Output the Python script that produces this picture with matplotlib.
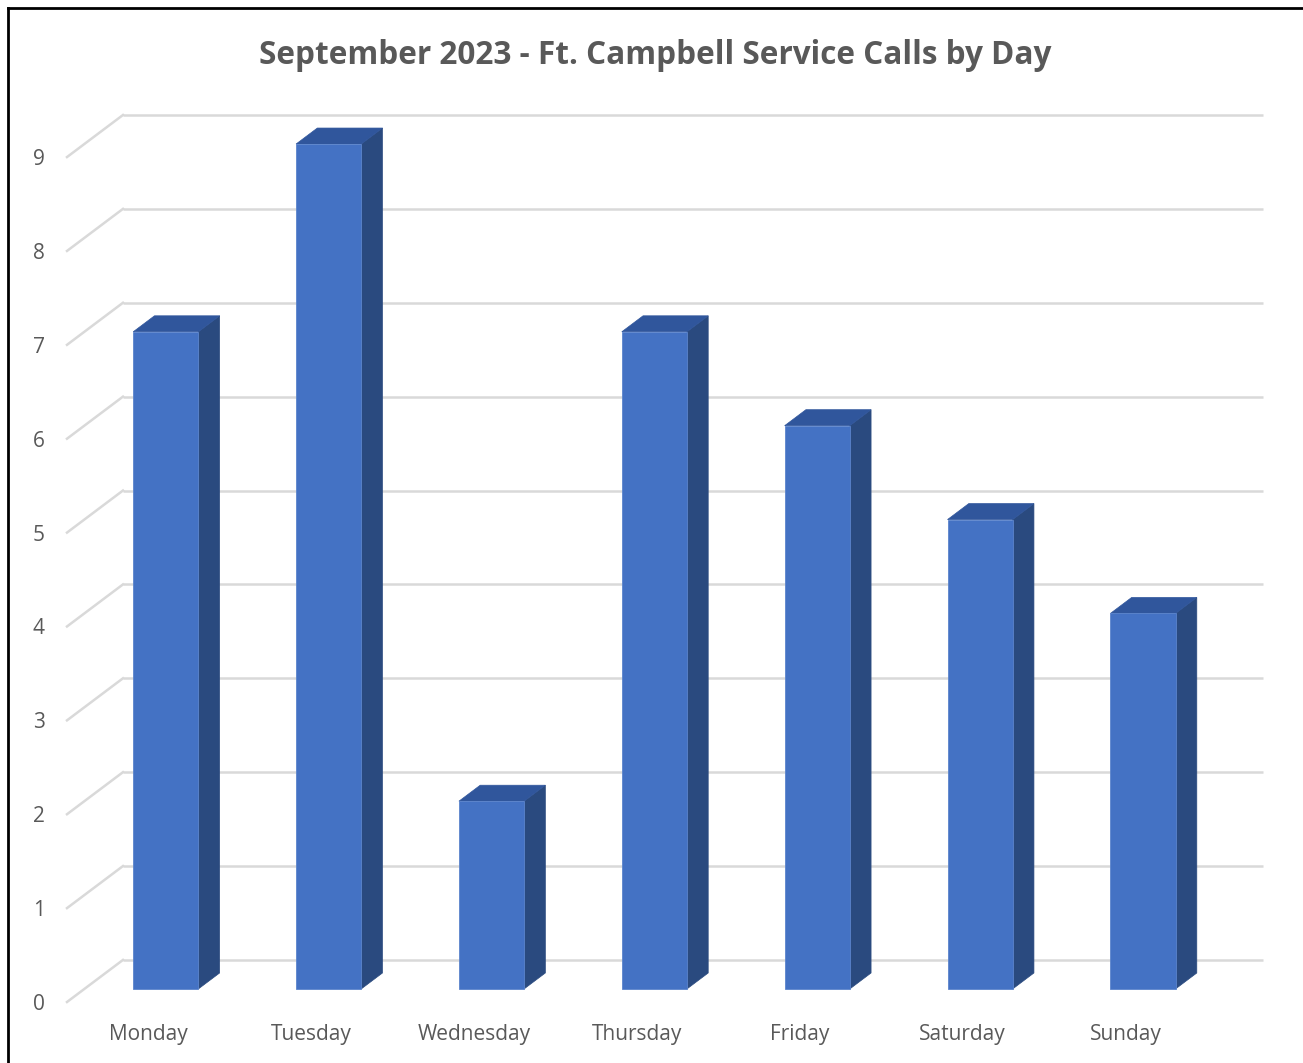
import matplotlib
matplotlib.use("Agg")
import matplotlib.pyplot as plt
from matplotlib.patches import Polygon
from matplotlib.lines import Line2D

days = ["Monday", "Tuesday", "Wednesday", "Thursday", "Friday", "Saturday", "Sunday"]
calls = [7, 9, 2, 7, 6, 5, 4]
y_ticks = [0, 1, 2, 3, 4, 5, 6, 7, 8, 9]
title = "September 2023 - Ft. Campbell Service Calls by Day"

plt.rcParams['font.family'] = ['Open Sans', 'DejaVu Sans']

W, H = 1303, 1063
fig = plt.figure(figsize=(W / 100, H / 100), dpi=100)
fig.patch.set_facecolor("white")

# axes = front-left of floor to back-right top of wall
ax_l, ax_r, ax_b, ax_t = 67, 1263, 1002, 115
ax = fig.add_axes([ax_l / W, (H - ax_b) / H, (ax_r - ax_l) / W, (ax_b - ax_t) / H])

DX = 0.3436   # depth offset in category units
DY = 0.448    # depth offset in value units
d1, d2 = 0.31, 0.69
bw = 0.4
n = len(days)
ymax = max(y_ticks)

ax.set_xlim(-0.5, n - 0.5 + DX)
ax.set_ylim(0, ymax + DY)
for s in ax.spines.values():
    s.set_visible(False)
ax.set_facecolor("none")

grid_c = "#D9D9D9"
for v in y_ticks:
    ax.plot([-0.5 + DX, n - 0.5 + DX], [v + DY, v + DY], color=grid_c, lw=1.8, zorder=1,
            solid_capstyle="butt", clip_on=False)
    ax.plot([-0.5, -0.5 + DX], [v, v + DY], color=grid_c, lw=1.8, zorder=1, clip_on=False)

front_c = "#4472C4"
top_c = "#30569C"
side_c = "#2A4A7F"
xs = [i + d1 * DX for i in range(n)]
ax.bar(xs, calls, width=bw, bottom=d1 * DY, color=front_c, edgecolor="#5B84CC",
       linewidth=0.6, zorder=3)
ddx = (d2 - d1) * DX
ddy = (d2 - d1) * DY
for x, v in zip(xs, calls):
    xl, xr = x - bw / 2, x + bw / 2
    yb, yt = d1 * DY, v + d1 * DY
    side = Polygon([(xr, yb), (xr + ddx, yb + ddy), (xr + ddx, yt + ddy), (xr, yt)],
                   closed=True, facecolor=side_c, edgecolor=side_c, lw=0.5, zorder=2)
    top = Polygon([(xl, yt), (xr, yt), (xr + ddx, yt + ddy), (xl + ddx, yt + ddy)],
                  closed=True, facecolor=top_c, edgecolor=top_c, lw=0.5, zorder=2)
    ax.add_patch(side)
    ax.add_patch(top)

lab_c = "#595959"
ax.set_yticks(y_ticks)
ax.set_yticklabels([str(v) for v in y_ticks])
ax.set_xticks(range(n))
ax.set_xticklabels(days)
ax.tick_params(axis="y", length=0, pad=16, labelsize=15, labelcolor=lab_c)
ax.tick_params(axis="x", length=0, pad=16, labelsize=15, labelcolor=lab_c)

fig.text(655 / W, 1 - 55 / H, title, ha="center", va="center", fontsize=22.7,
         fontweight="bold", color=lab_c)

# outer frame (top and left edges visible)
fig.add_artist(Line2D([8 / W, 1.0], [1 - 8 / H, 1 - 8 / H], color="black", lw=2,
                      transform=fig.transFigure))
fig.add_artist(Line2D([8 / W, 8 / W], [0, 1 - 8 / H], color="black", lw=2,
                      transform=fig.transFigure))

fig.savefig("out.png", dpi=100)
